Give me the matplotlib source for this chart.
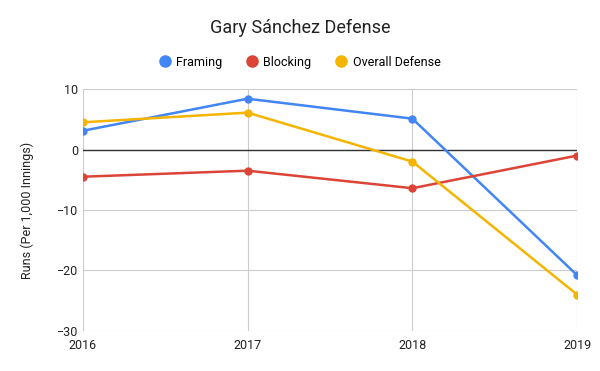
import matplotlib.pyplot as plt

plt.rcParams['font.family'] = ['Roboto', 'DejaVu Sans']

years = [2016, 2017, 2018, 2019]
framing = [3.1, 8.4, 5.1, -20.8]
blocking = [-4.5, -3.5, -6.4, -1.0]
overall = [4.5, 6.1, -2.0, -24.0]

fig = plt.figure(figsize=(6, 3.71), dpi=100)
ax = fig.add_axes([0.138, 0.108, 0.824, 0.652])

ax.plot(years, framing, color='#4285f4', lw=1.8, marker='o', ms=5, label='Framing', zorder=3)
ax.plot(years, blocking, color='#db4437', lw=1.8, marker='o', ms=5, label='Blocking', zorder=3)
ax.plot(years, overall, color='#f4b400', lw=1.8, marker='o', ms=5, label='Overall Defense', zorder=3)

ax.axhline(0, color='#333333', lw=1, zorder=2)
ax.set_xlim(2016, 2019)
ax.set_ylim(-30, 10)
ax.set_xticks(years)
ax.set_yticks([-30, -20, -10, 0, 10])
ax.grid(True, color='#cccccc', lw=0.8)
ax.tick_params(length=0, labelsize=9, colors='#222222')
ax.tick_params(axis='x', pad=6)
for s in ax.spines.values():
    s.set_visible(False)
ax.set_ylabel('Runs (Per 1,000 Innings)', fontsize=9, color='#222222', labelpad=16)

fig.text(0.5, 0.925, 'Gary Sánchez Defense', ha='center', va='center', fontsize=13, color='#222222')
leg = fig.legend(loc='center', bbox_to_anchor=(0.5, 0.832), ncol=3, frameon=False,
                 fontsize=9, handlelength=0.8, handletextpad=0.5, columnspacing=2.0)
for h in leg.legend_handles:
    h.set_linestyle('none')
    h.set_markersize(8)

fig.savefig('out.png', dpi=100)
